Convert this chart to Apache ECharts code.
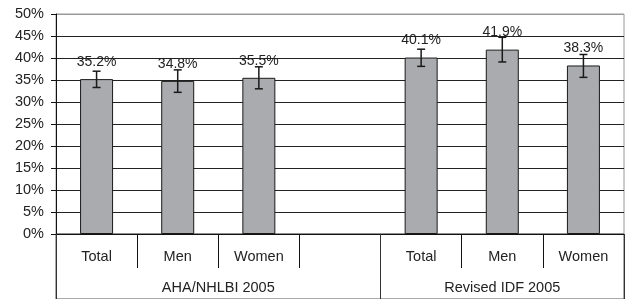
<!DOCTYPE html>
<html>
<head>
<meta charset="utf-8">
<script src="https://cdn.jsdelivr.net/npm/echarts@6/dist/echarts.min.js"></script>
<style>html,body{margin:0;padding:0;background:#fff}#c{width:629px;height:299px}</style>
</head>
<body>
<div id="c"></div>
<script>
var categories = ['Total', 'Men', 'Women', '', 'Total', 'Men', 'Women'];
var values = [35.2, 34.8, 35.5, null, 40.1, 41.9, 38.3];
var errLow = [33.3, 32.2, 33.0, null, 38.1, 39.1, 35.6];
var errHigh = [37.0, 37.3, 38.0, null, 42.0, 44.7, 40.8];
var groupNames = ['AHA/NHLBI 2005', 'Revised IDF 2005'];
var groupSpans = [4, 3];
var yTicks = [0, 5, 10, 15, 20, 25, 30, 35, 40, 45, 50];

var groupStarts = [], groupCenters = [], acc = 0;
groupSpans.forEach(function (s) { groupStarts.push(acc); groupCenters.push(acc + s / 2); acc += s; });

var errData = [];
for (var i = 0; i < categories.length; i++) {
  if (values[i] != null) errData.push([i, errLow[i], errHigh[i]]);
}

var font = '"Liberation Sans", Arial, sans-serif';
var chart = echarts.init(document.getElementById('c'), null, {renderer: 'canvas'});
var splitColors = yTicks.map(function (t, i) { return i === yTicks.length - 1 ? '#9a9a9a' : '#222'; });

chart.setOption({
  animation: false,
  grid: [
    {left: 56, right: 5, top: 14, bottom: 65, show: true, borderColor: '#9a9a9a', borderWidth: 1},
    {left: 56, right: 5, top: 234, height: 120, show: true, borderColor: '#555', borderWidth: 1}
  ],
  yAxis: [{
    type: 'value', min: yTicks[0], max: yTicks[yTicks.length - 1], interval: 5,
    axisLine: {show: true, lineStyle: {color: '#111', width: 1}},
    axisTick: {show: true, length: 5, lineStyle: {color: '#111'}},
    axisLabel: {formatter: '{value}%', fontSize: 14.5, color: '#222', fontFamily: font, margin: 12},
    splitLine: {show: true, lineStyle: {color: splitColors, width: 1}}
  }, {
    gridIndex: 1, type: 'value', show: false
  }],
  xAxis: [
    {
      type: 'category', data: categories, position: 'bottom',
      axisLine: {show: true, lineStyle: {color: '#111', width: 1}},
      axisTick: {show: true, interval: 0, length: 34, lineStyle: {color: '#111'}},
      axisLabel: {interval: 0, fontSize: 14.5, color: '#222', fontFamily: font, margin: 15}
    },
    {
      type: 'category', data: categories, position: 'bottom',
      axisLine: {show: false},
      axisTick: {show: true, length: 65, lineStyle: {color: '#333'},
        interval: function (idx) { return groupStarts.indexOf(idx) >= 0; }},
      axisLabel: {show: false}
    },
    {
      type: 'value', min: 0, max: categories.length, interval: 0.5, position: 'bottom',
      axisLine: {show: false}, axisTick: {show: false}, splitLine: {show: false},
      axisLabel: {
        fontSize: 14.5, color: '#222', fontFamily: font, margin: 46, showMinLabel: true, showMaxLabel: true,
        formatter: function (v) { var k = groupCenters.indexOf(v); return k >= 0 ? groupNames[k] : ''; }
      }
    },
    {
      gridIndex: 1, type: 'value', show: false
    }
  ],
  series: [
    {
      type: 'bar', data: values, xAxisIndex: 0, barWidth: 33,
      itemStyle: {color: '#aaabae', borderColor: '#1a1a1a', borderWidth: 1},
      label: {show: true, position: 'top', distance: 10, fontSize: 14, color: '#222', fontFamily: font,
        formatter: function (p) { return p.value.toFixed(1) + '%'; }}
    },
    {
      type: 'custom', xAxisIndex: 0, data: errData, z: 10,
      renderItem: function (params, api) {
        var x = api.value(0);
        var lo = api.coord([x, api.value(1)]);
        var hi = api.coord([x, api.value(2)]);
        var cw = 4;
        var style = {stroke: '#1a1a1a', lineWidth: 1.5};
        return {type: 'group', children: [
          {type: 'line', shape: {x1: hi[0], y1: hi[1], x2: lo[0], y2: lo[1]}, style: style},
          {type: 'line', shape: {x1: hi[0] - cw, y1: hi[1], x2: hi[0] + cw, y2: hi[1]}, style: style},
          {type: 'line', shape: {x1: lo[0] - cw, y1: lo[1], x2: lo[0] + cw, y2: lo[1]}, style: style}
        ]};
      }
    }
  ]
});
</script>
</body>
</html>
